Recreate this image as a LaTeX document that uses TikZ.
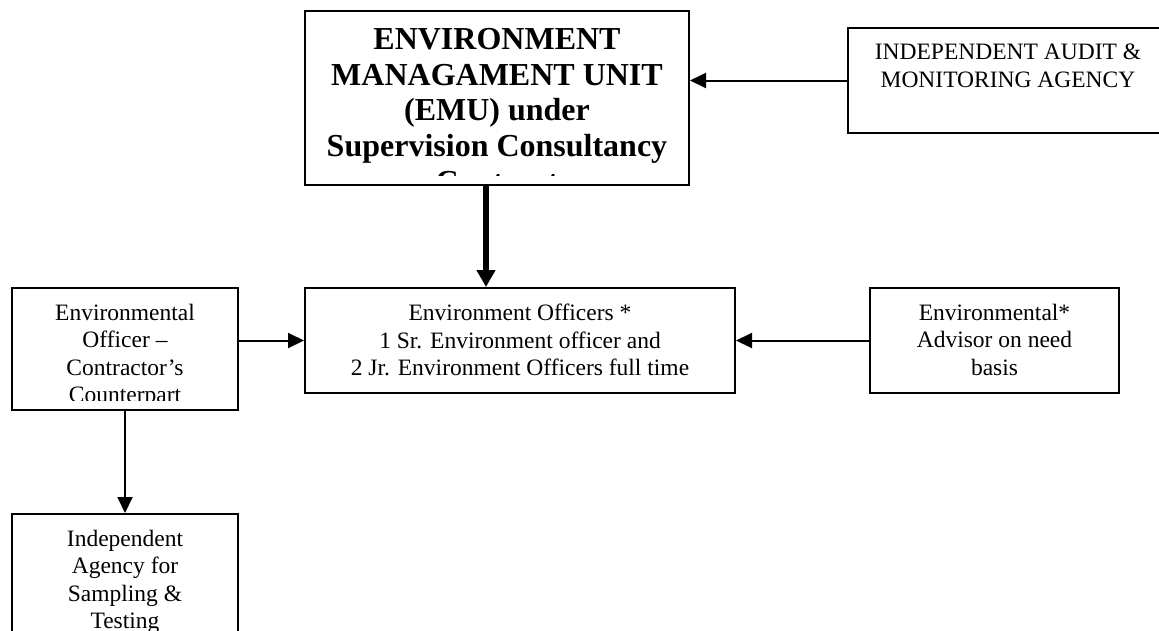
\documentclass[tikz,border=0pt]{standalone}
\usepackage{fontspec}
\setmainfont{Liberation Serif}
\usetikzlibrary{arrows.meta}

\begin{document}
\begin{tikzpicture}[
            x=1pt, y=-1pt,
            box/.style={draw, line width=2pt, rectangle, inner sep=0pt, anchor=north west},
            boxtext/.style={align=center, inner sep=0pt, anchor=north, font=\fontsize{23.5}{27.3}\selectfont},
            headtext/.style={align=center, inner sep=0pt, anchor=north, font=\fontsize{32}{35.8}\selectfont\bfseries},
            link/.style={line width=2pt, -{Triangle[length=16pt, width=15pt]}},
            mainlink/.style={line width=6pt, -{Triangle[length=17pt, width=18pt]}}
            ]
            \clip (0,0) rectangle (1159,630);
            \node[box, minimum width=384pt, minimum height=174pt] (emu) at (304,10) {};
            \node[box, minimum width=320pt, minimum height=105pt] (audit) at (847,27) {};
            \node[box, minimum width=430pt, minimum height=105pt] (officers) at (304,287) {};
            \node[box, minimum width=226pt, minimum height=122pt] (contractor) at (11,287) {};
            \node[box, minimum width=249pt, minimum height=105pt] (advisor) at (869,287) {};
            \node[box, minimum width=226pt, minimum height=140pt] (agency) at (11,513) {};

            \begin{scope}
                \clip (emu.north west) rectangle ([yshift=11pt]emu.south east);
                \node[headtext] (emutext) at ([yshift=-18pt]emu.north)
                    {ENVIRONMENT\\MANAGAMENT UNIT\\(EMU) under\\Supervision Consultancy\\Contract};
            \end{scope}
            \begin{scope}
                \clip (contractor.north west) rectangle ([yshift=11pt]contractor.south east);
                \node[boxtext] (contractortext) at ([yshift=-17pt]contractor.north)
                    {Environmental\\Officer --\\Contractor's\\Counterpart};
            \end{scope}
            \node[boxtext] (audittext) at ([yshift=-17pt]audit.north)
                {INDEPENDENT AUDIT \&\\MONITORING AGENCY};
            \node[boxtext] (officerstext) at ([yshift=-17pt]officers.north)
                {Environment Officers *\\1 Sr. Environment officer and\\2 Jr. Environment Officers full time};
            \node[boxtext] (advisortext) at ([yshift=-17pt]advisor.north)
                {Environmental*\\Advisor on need\\basis};
            \node[boxtext] (agencytext) at ([yshift=-17pt]agency.north)
                {Independent\\Agency for\\Sampling \&\\Testing};

            \draw[link] (audit.west) -- (audit.west -| emu.east);
            \draw[mainlink] ([xshift=-11pt]emu.south) -- ([xshift=-11pt]emu.south |- officers.north);
            \draw[link] (officers.west -| contractor.east) -- (officers.west);
            \draw[link] (advisor.west) -- (officers.east);
            \draw[link] (contractor.south) -- (agency.north);
        \end{tikzpicture}
\end{document}
